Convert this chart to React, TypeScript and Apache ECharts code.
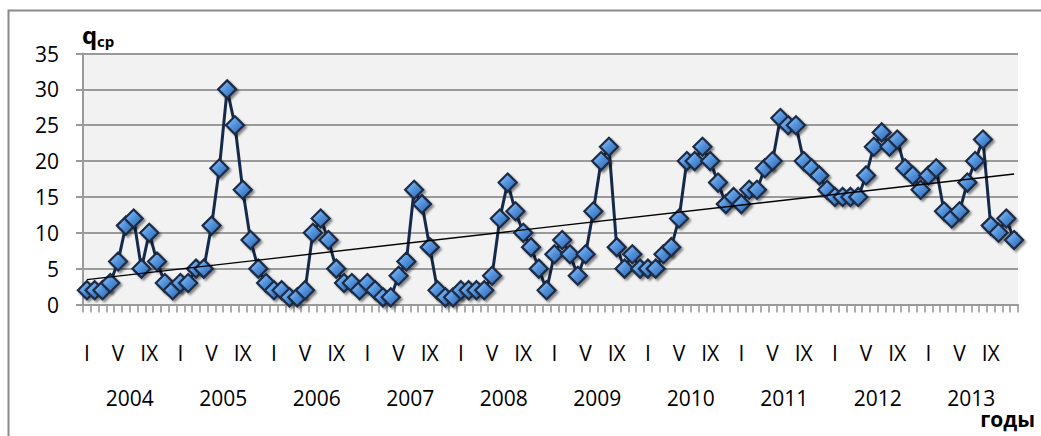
import React, { useEffect, useRef } from "react";
import * as echarts from "echarts";

const months = ["I", "II", "III", "IV", "V", "VI", "VII", "VIII", "IX", "X", "XI", "XII"];
const labeledMonths = ["I", "V", "IX"];
const years = ["2004", "2005", "2006", "2007", "2008", "2009", "2010", "2011", "2012", "2013"];

const q2004 = [2, 2, 2, 3, 6, 11, 12, 5, 10, 6, 3, 2];
const q2005 = [3, 3, 5, 5, 11, 19, 30, 25, 16, 9, 5, 3];
const q2006 = [2, 2, 1, 1, 2, 10, 12, 9, 5, 3, 3, 2];
const q2007 = [3, 2, 1, 1, 4, 6, 16, 14, 8, 2, 1, 1];
const q2008 = [2, 2, 2, 2, 4, 12, 17, 13, 10, 8, 5, 2];
const q2009 = [7, 9, 7, 4, 7, 13, 20, 22, 8, 5, 7, 5];
const q2010 = [5, 5, 7, 8, 12, 20, 20, 22, 20, 17, 14, 15];
const q2011 = [14, 16, 16, 19, 20, 26, 25, 25, 20, 19, 18, 16];
const q2012 = [15, 15, 15, 15, 18, 22, 24, 22, 23, 19, 18, 16];
const q2013 = [18, 19, 13, 12, 13, 17, 20, 23, 11, 10, 12, 9];

const yTicks = { min: 0, max: 35, interval: 5 };
const yTitleMain = "q";
const yTitleSub = "ср";
const xTitle = "годы";

const byYear = [q2004, q2005, q2006, q2007, q2008, q2009, q2010, q2011, q2012, q2013];

export default function App() {
  const ref = useRef<HTMLDivElement>(null);

  useEffect(() => {
    if (!ref.current) return;
    const chart = echarts.init(ref.current, null, { renderer: "svg" });

    const categories: string[] = [];
    years.forEach((y) => months.forEach((m) => categories.push(y + "|" + m)));
    const values: number[] = byYear.flat();

    // least-squares linear trend (like Excel's linear trendline)
    const n = values.length;
    let sx = 0, sy = 0, sxx = 0, sxy = 0;
    values.forEach((v, i) => {
      sx += i; sy += v; sxx += i * i; sxy += i * v;
    });
    const b = (n * sxy - sx * sy) / (n * sxx - sx * sx);
    const a = (sy - b * sx) / n;
    const trend = [
      [0, a],
      [n - 1, a + b * (n - 1)],
    ];

    const gray = "#9a9a9a";
    const font = "'Open Sans', 'Liberation Sans', sans-serif";

    chart.setOption({
      animation: false,
      backgroundColor: "#ffffff",
      grid: {
        left: 83,
        right: 23,
        top: 53.5,
        bottom: 131.5,
        show: true,
        backgroundColor: "#f2f2f2",
        borderWidth: 0,
      },
      graphic: [
        {
          type: "rect",
          shape: { x: 8.5, y: 10.5, width: 1100, height: 500 },
          style: { fill: "none", stroke: "#8a8a8a", lineWidth: 2 },
          silent: true,
        },
        {
          type: "text",
          left: 82,
          top: 22,
          style: { text: yTitleMain, font: "bold 24px " + font, fill: "#000" },
        },
        {
          type: "text",
          left: 97,
          top: 33,
          style: { text: yTitleSub, font: "bold 15px " + font, fill: "#000" },
        },
        {
          type: "text",
          right: 6,
          top: 408,
          style: { text: xTitle, font: "bold 21px " + font, fill: "#000" },
        },
      ],
      xAxis: [
        {
          type: "category",
          data: categories,
          boundaryGap: true,
          axisLine: { show: true, lineStyle: { color: gray, width: 2 } },
          axisTick: { show: true, interval: 0, length: 8, lineStyle: { color: gray, width: 1.6 } },
          axisLabel: {
            interval: 0,
            margin: 38,
            fontSize: 21,
            fontFamily: font,
            color: "#000",
            formatter: (v: string) => {
              const m = v.split("|")[1];
              return labeledMonths.includes(m) ? m : "";
            },
          },
          splitLine: { show: false },
        },
        {
          type: "category",
          data: years,
          position: "bottom",
          offset: 0,
          boundaryGap: true,
          axisLine: { show: false },
          axisTick: { show: false },
          axisLabel: { interval: 0, margin: 83, fontSize: 21, fontFamily: font, color: "#000" },
          splitLine: { show: false },
        },
      ],
      yAxis: {
        type: "value",
        min: yTicks.min,
        max: yTicks.max,
        interval: yTicks.interval,
        axisLine: { show: true, lineStyle: { color: gray, width: 2 } },
        axisTick: { show: true, length: 7, lineStyle: { color: gray, width: 2 } },
        axisLabel: { margin: 24, fontSize: 21, fontFamily: font, color: "#000" },
        splitLine: { show: true, lineStyle: { color: gray, width: 2 } },
      },
      series: [
        {
          type: "line",
          xAxisIndex: 0,
          data: values,
          symbol: "diamond",
          symbolSize: 18,
          showSymbol: true,
          showAllSymbol: true,
          z: 2,
          lineStyle: { color: "#15294a", width: 3 },
          itemStyle: {
            color: new echarts.graphic.LinearGradient(0, 0, 1, 1, [
              { offset: 0, color: "#a8d0fb" },
              { offset: 0.45, color: "#5596e0" },
              { offset: 1, color: "#2a5a9c" },
            ]),
            borderColor: "#1b2b45",
            borderWidth: 2.2,
            shadowColor: "rgba(0,0,0,0.45)",
            shadowBlur: 2,
            shadowOffsetX: 2,
            shadowOffsetY: 2,
          },
        },
        {
          type: "line",
          xAxisIndex: 0,
          data: trend,
          symbol: "none",
          z: 5,
          lineStyle: { color: "#000", width: 1.4 },
        },
      ],
    });

    return () => chart.dispose();
  }, []);

  return (
    <div
      ref={ref}
      style={{ position: "fixed", left: 0, top: 0, width: 1041, height: 436, background: "#fff" }}
    />
  );
}
